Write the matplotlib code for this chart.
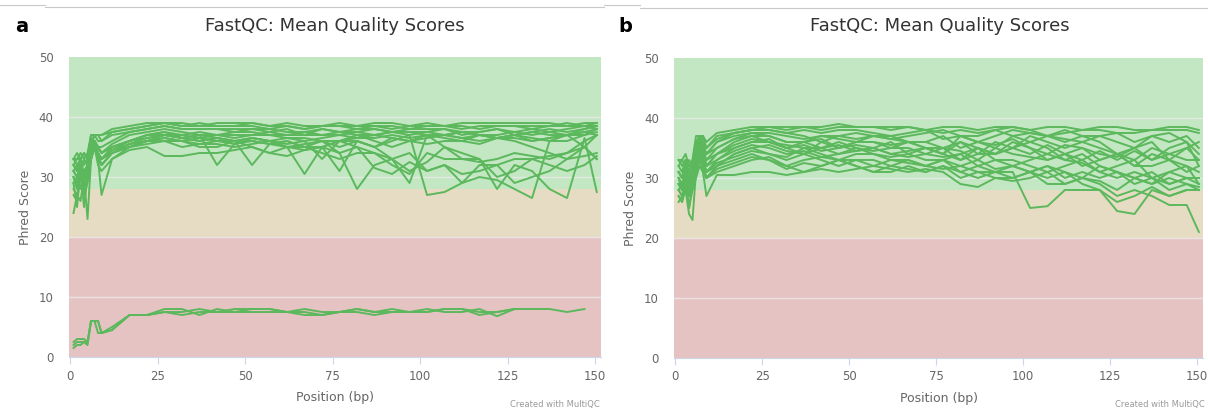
import numpy as np
import matplotlib
matplotlib.use("Agg")
import matplotlib.pyplot as plt
from matplotlib.lines import Line2D

# FastQC bin positions (1-9, then 5bp bins, last bin 150-151)
positions = [1, 2, 3, 4, 5, 6, 7, 8, 9, 12, 17, 22, 27, 32, 37, 42, 47, 52, 57, 62,
             67, 72, 77, 82, 87, 92, 97, 102, 107, 112, 117, 122, 127, 132, 137, 142, 147, 150.5]
x_ticks = [0, 25, 50, 75, 100, 125, 150]
y_ticks = [0, 10, 20, 30, 40, 50]
nan = float("nan")

# ---- panel a samples ----
a01 = [33, 33, 34, 33, 34, 37, 37, 37, 37, 38, 38.5, 39, 39, 39, 38.5, 39, 39, 39, 38.5, 39, 38.5, 38.5, 39, 38.5, 39, 39, 38.5, 39, 38.5, 39, 39, 39, 39, 39, 39, 38.5, 39, 39]
a02 = [32, 33, 33, 34, 33, 36, 37, 37, 37, 37.5, 38, 38.5, 39, 38.5, 38.5, 38.5, 38.5, 38.5, 38, 38.5, 38, 38.5, 38.5, 38, 38.5, 38.5, 38, 38.5, 38.5, 38, 38.5, 38.5, 38.5, 38, 38.5, 38.5, 38.5, 39]
a03 = [31, 32, 30, 33, 32, 35, 37, 36, 36, 37, 37.5, 38, 38.5, 38, 38, 38, 38, 38, 37.5, 38, 37, 38, 37.5, 37.5, 38, 37.5, 37.5, 37.5, 38, 37, 37.5, 38, 37, 37.5, 38, 37.5, 38, 38.5]
a04 = [30, 28, 32, 30, 31, 34, 36, 35, 35, 36, 37.5, 38, 38.5, 38, 38, 38, 37.5, 38, 38, 37.5, 37.5, 38, 37.5, 38, 38, 37.5, 38, 38, 38, 37.5, 37.5, 38, 37.5, 38, 37.5, 38, 38.5, 38]
a05 = [29, 30, 28, 31, 30, 33, 36, 35, 34, 35.5, 37, 37.5, 38, 37.5, 37, 37, 37.5, 37.5, 37, 37, 37.5, 37, 37, 37.5, 37, 37.5, 37.5, 37, 37, 37.5, 37, 36.5, 37, 37.5, 37, 37, 37.5, 37]
a06 = [28, 27, 30, 29, 32, 34, 35, 34, 33, 34.5, 36, 37, 37.5, 37, 36.5, 37, 36.5, 37, 37, 36.5, 36, 36.5, 37, 36.5, 36.5, 37, 36.5, 37, 37, 36.5, 36, 36.5, 37, 36, 36.5, 37, 35, 33]
a07 = [27, 26, 31, 25, 30, 33, 35, 33, 32, 34, 35.5, 36.5, 37, 36.5, 37, 36.5, 36, 36.5, 36, 36.5, 36.5, 36, 36, 36.5, 37, 36.5, 36, 36.5, 37, 36.5, 37, 36.5, 36.5, 36, 36.5, 37, 37, 37.5]
a08 = [33, 32, 33, 32, 33, 34, 36, 35, 34, 35, 36, 37, 37.5, 36.5, 37, 32, 35.5, 36.5, 36, 35.5, 36, 33, 36, 37, 36, 35, 36, 37, 36.5, 36, 37, 36.5, 37, 36.5, 36, 36, 37, 38]
a09 = [32, 31, 32, 30, 31, 34, 35, 34, 33, 34.5, 35.5, 36, 36.5, 36, 35, 35, 36, 32, 35.5, 36, 35, 35, 36, 36, 35, 36.5, 36, 35.5, 36, 36, 35.5, 36.5, 36, 35, 34, 33, 35, 37]
a10 = [30, 29, 31, 28, 30, 33, 35, 32, 31, 33, 34.5, 35, 33.5, 33.5, 34, 34, 34.5, 35, 34, 33.5, 34.5, 35, 34, 35, 34, 33, 34, 31, 32, 30.5, 31, 32, 29, 30, 31, 33, 33.5, 34]
a11 = [31, 30, 32, 29, 31, 33, 35, 33, 32, 34, 35, 36, 36.5, 36, 36.5, 36, 35.5, 36, 35.5, 35, 30.5, 35, 31, 36, 35, 33, 31, 32.5, 35, 34, 33, 30, 31, 33, 32, 31, 32, 33.5]
a12 = [32, 31, 33, 30, 32, 34, 36, 34, 33, 35, 36, 36.5, 37, 36.5, 36, 36.5, 36, 36.5, 36, 35, 35.5, 36, 34, 28, 32, 33, 29, 37, 35, 33, 32.5, 33, 34, 33.5, 33, 34, 36, 37]
a13 = [31, 30, 32, 31, 32, 35, 36, 35, 34, 35, 36, 37, 37, 36.5, 36, 36.5, 36, 36, 35.5, 36, 35, 36, 35, 36, 35, 36, 37, 27, 27.5, 29, 30, 29.5, 28, 26.5, 36, 37, 38, 38.5]
a14 = [30, 29, 31, 29, 30, 34, 36, 34, 32, 34, 35.5, 36, 36, 35, 35.5, 36, 36, 35, 34, 35, 35, 34, 33, 34, 34, 32, 30.5, 34, 33, 33, 33, 28, 32, 31, 28, 26.5, 36.5, 27.5]
a15 = [29, 25, 31, 27, 29, 33, 35, 33, 27, 33, 35, 35.5, 36, 36, 35.5, 35.5, 35, 35.5, 36, 35, 34.5, 35, 36, 35, 31.5, 30.5, 32.5, 31, 32, 29, 32, 32, 33, 33, 33.5, 34, 35, 33]
a16 = [24, 27, 26, 30, 23, 33, 36, 34, 33, 34, 35, 36, 37, 37, 37.5, 37, 37, 37, 37.5, 37, 37, 37, 37.5, 37, 37, 37.5, 37, 37.5, 37, 37.5, 37, 37, 37.5, 37, 37.5, 37, 37.5, 38]
a17 = [33, 34, 33, 34, 33, 37, 37, 37, 36, 37.5, 38, 38.5, 39, 38.5, 39, 38.5, 38.5, 39, 38.5, 38.5, 38, 38.5, 38.5, 38.5, 38.5, 38, 38.5, 38.5, 38.5, 38.5, 38, 38.5, 38.5, 38.5, 38.5, 39, 38.5, 38.5]
a18 = [2.5, 3, 3, 3, 2.5, 6, 6, 6, 4, 4.5, 7, 7, 7.5, 7.5, 8, 7.5, 8, 8, 8, 7.5, 7.5, 7, 7.5, 8, 7.5, 7.5, 7.5, 7.5, 8, 8, 7.5, 7.5, 8, 8, 8, 7.5, 8, nan]
a19 = [1.5, 2, 2, 2.5, 2, 6, 6, 4, 4, 5, 7, 7, 8, 8, 7, 8, 7.5, 7.5, 7.5, 7.5, 8, 7.5, 7.5, 7.5, 7, 7.5, 7.5, 7.5, 8, 8, 7, 7.5, 8, nan, nan, nan, nan, nan]
a20 = [2, 2.5, 2.5, 2.5, 2.5, 6, 6, 6, 4, 4.5, 7, 7, 7.5, 7, 7.5, 7.5, 7.5, 8, 8, 7.5, 7, 7, 7.5, 8, 7.5, 8, 7.5, 8, 7.5, 7.5, 8, 6.8, 8, nan, nan, nan, nan, nan]

# ---- panel b samples ----
b01 = [33, 33, 34, 32, 33, 37, 37, 37, 36, 37.5, 38, 38.5, 38.5, 38.5, 38.5, 38.5, 39, 38.5, 38.5, 38.5, 38.5, 38, 38.5, 38.5, 38, 38.5, 38.5, 38, 38.5, 38.5, 38, 38.5, 38.5, 38, 38, 38.5, 38.5, 38]
b02 = [32, 33, 32, 33, 32, 36, 36, 37, 35, 37, 37.5, 38, 38.5, 38, 38.5, 38, 38.5, 38.5, 38.5, 38, 38.5, 38, 37.5, 38, 37.5, 38, 38.5, 38, 37, 37.5, 38, 38, 37.5, 37.5, 38, 38, 38, 37.5]
b03 = [31, 30, 33, 31, 30, 35, 37, 36, 34, 36, 37.5, 38, 38, 37.5, 38, 37.5, 38, 38, 37.5, 37, 37.5, 38, 36.5, 37, 36, 37, 38, 37.5, 37, 36.5, 36, 37, 37.5, 36, 37, 37.5, 36, 34]
b04 = [30, 29, 31, 28, 31, 34, 36, 35, 33, 35, 36.5, 37.5, 37.5, 37, 36.5, 37, 37, 36.5, 37, 37, 36, 36, 37, 35, 36, 35.5, 36.5, 35, 34, 35.5, 35, 34, 33.5, 35, 36, 33, 35, 36]
b05 = [29, 28, 30, 29, 30, 33, 35, 35, 32, 34, 36, 37, 37, 36, 36, 36.5, 35, 36, 36, 35.5, 36, 35, 34, 36, 35, 34, 35, 34, 35.5, 34, 33, 34.5, 33, 34.5, 33, 34, 33, 33]
b06 = [28, 27, 29, 27, 29, 32, 35, 33, 31, 33, 35, 36, 36, 35.5, 35, 35, 36, 35, 34.5, 35, 35, 34, 35, 34.5, 33, 35, 34, 33.5, 33, 34, 32, 33, 34, 32, 32, 33, 31, 32]
b07 = [27, 26, 30, 25, 29, 31, 34, 32, 30, 32, 34, 35, 35.5, 34.5, 34, 35, 34, 34.5, 35, 34, 33.5, 34, 33.5, 34, 35, 33, 32, 33, 34, 33, 32.5, 31, 32, 33, 30, 31, 32, 29]
b08 = [30, 28, 31, 29, 31, 33, 36, 34, 33, 34, 35.5, 36.5, 36, 35, 35.5, 34.5, 35, 35.5, 35, 34, 34.5, 35, 35, 33, 34, 34, 35, 36, 35, 33, 34, 32, 31, 30, 29, 31, 30, 30]
b09 = [28, 29, 30, 28, 30, 32, 34, 33, 31, 32.5, 33.5, 34.5, 34, 33.5, 35, 34, 33, 34, 34, 33.5, 34, 33, 33, 34, 32, 33, 33, 32, 31, 32, 33, 31, 30, 31, 30, 29, 30, 29]
b10 = [27, 26, 28, 24, 23, 31, 33, 32, 30, 31, 32, 33, 33.5, 32, 33, 33.5, 33, 33, 32, 33, 32.5, 32, 33, 31, 32, 31, 32, 31, 32, 30, 31, 30, 31, 29, 30, 28, 29, 28]
b11 = [26, 27, 29, 25, 28, 30, 32, 31, 27, 30.5, 30.5, 31, 31, 30.5, 31, 31.5, 31, 31.5, 32, 31.5, 31, 31.5, 31, 29, 28.5, 30, 29.5, 30, 31, 29, 30, 29.5, 28, 30, 29, 30, 29, 28.5]
b12 = [29, 28, 30, 28, 29, 31, 33, 32, 30, 32, 33, 34, 33, 32, 31, 32, 33, 32, 31, 32, 31.5, 31, 32, 30, 31, 31, 31, 25, 25.3, 28, 28, 28, 26, 27, 28.5, 27, 28, 28]
b13 = [30, 29, 30, 29, 31, 33, 35, 34, 32, 33, 34.5, 35.5, 35, 34, 34.5, 33.5, 34, 35, 34, 33, 33, 32, 33, 32, 33, 31.5, 32, 31, 30, 31, 29, 28, 24.5, 24, 28, 27, 28, 28]
b14 = [28, 27, 29, 27, 30, 32, 34, 33, 31, 32, 34, 35, 34, 33, 34, 33, 32, 33, 33, 32, 33, 32, 31.5, 32, 31, 30, 30, 31, 29, 29, 30, 29, 27, 28, 27, 25.5, 25.5, 21]
b15 = [31, 30, 32, 30, 32, 35, 37, 35, 34, 36, 37, 37.5, 37, 36, 36, 37, 36.5, 36, 37, 36.5, 36, 35, 34, 37, 36, 35, 37, 36, 37, 36, 37, 36, 34, 35, 33, 35, 36, 32]
b16 = [32, 31, 33, 31, 33, 36, 37, 36, 35, 36.5, 37.5, 38, 38, 37.5, 37, 36, 37, 37.5, 37, 36.5, 37, 37.5, 38, 37, 37, 38, 37, 37.5, 37, 38, 37, 37, 36, 35, 37, 36, 37, 35]
b17 = [33, 32, 33, 32, 32, 35, 36, 35, 34, 35, 36.5, 37, 36, 35, 36, 35, 35.5, 34.5, 35, 36, 34, 35, 34, 33, 35, 34, 36, 35, 33, 34, 35, 33, 34, 32, 34, 33, 32, 31]
b18 = [29, 28, 29, 27, 28, 31, 33, 31, 30, 31.5, 32.5, 33.5, 33, 31.5, 32.5, 32, 33, 32, 31, 31, 32, 31, 32, 31, 30, 31, 30, 31, 32, 31, 30, 32, 31, 30, 31, 29, 30, 30]
b19 = [31, 30, 32, 29, 31, 33, 35, 33, 32, 34, 35, 36, 36.5, 35, 34, 36, 35, 36, 36, 35, 36, 36, 35, 36, 34, 36, 35, 37, 36, 35, 36, 35, 34, 33, 35, 34, 35, 33]

panel_a = [a01, a02, a03, a04, a05, a06, a07, a08, a09, a10, a11, a12, a13, a14, a15, a16, a17, a18, a19, a20]
panel_b = [b01, b02, b03, b04, b05, b06, b07, b08, b09, b10, b11, b12, b13, b14, b15, b16, b17, b18, b19]

LINE = "#5cb85c"
GRAY = "#666666"

fig = plt.figure(figsize=(12.08, 4.09), dpi=100)


def draw(ax, samples):
    ax.axhspan(28, 50, color="#c3e6c3", lw=0, zorder=0)
    ax.axhspan(20, 28, color="#e6dcc3", lw=0, zorder=0)
    ax.axhspan(0, 20, color="#e6c3c3", lw=0, zorder=0)
    for g in [10, 20, 30, 40]:
        ax.axhline(g, color="#ececec", lw=1, alpha=0.8, zorder=1)
    for s in samples:
        ax.plot(positions, s, color=LINE, lw=1.4, zorder=2, solid_joinstyle="round")
    ax.set_xlim(-0.3, 151.7)
    ax.set_ylim(0, 50)
    ax.set_xticks(x_ticks)
    ax.set_yticks(y_ticks)
    for sp in ["top", "right", "left"]:
        ax.spines[sp].set_visible(False)
    ax.spines["bottom"].set_color("#ccd6eb")
    ax.tick_params(axis="x", colors="#ccd6eb", labelcolor=GRAY, labelsize=8.5, length=5, pad=4)
    ax.tick_params(axis="y", length=0, labelcolor=GRAY, labelsize=8.5, pad=11)
    ax.set_xlabel("Position (bp)", color=GRAY, fontsize=9, labelpad=6)
    ax.set_ylabel("Phred Score", color=GRAY, fontsize=9, labelpad=5)


ax_a = fig.add_axes([0.0571, 0.1271, 0.4404, 0.7335])
draw(ax_a, panel_a)
ax_b = fig.add_axes([0.558, 0.1247, 0.4379, 0.7335])
draw(ax_b, panel_b)

for cx, lx in [(335 / 1208, 22 / 1208), (940 / 1208, 625 / 1208)]:
    fig.text(cx, 1 - 26 / 409, "FastQC: Mean Quality Scores", ha="center", va="center",
             fontsize=13, color="#333333")
    fig.text(lx, 1 - 27 / 409, "a" if lx < 0.5 else "b", ha="center", va="center",
             fontsize=14, fontweight="bold", color="black")
    fig.text(cx + 265 / 1208, 1 - 404 / 409, "Created with MultiQC", ha="right", va="center",
             fontsize=6, color="#999999")

# thin frame lines at the very top
for x0, x1, y in [(0, 45, 5), (45, 604, 7), (604, 640, 5), (640, 1208, 8)]:
    fig.add_artist(Line2D([x0 / 1208, x1 / 1208], [1 - y / 409, 1 - y / 409],
                          color="#c8c8c8", lw=0.8, transform=fig.transFigure))

fig.savefig("out.png", dpi=100)
